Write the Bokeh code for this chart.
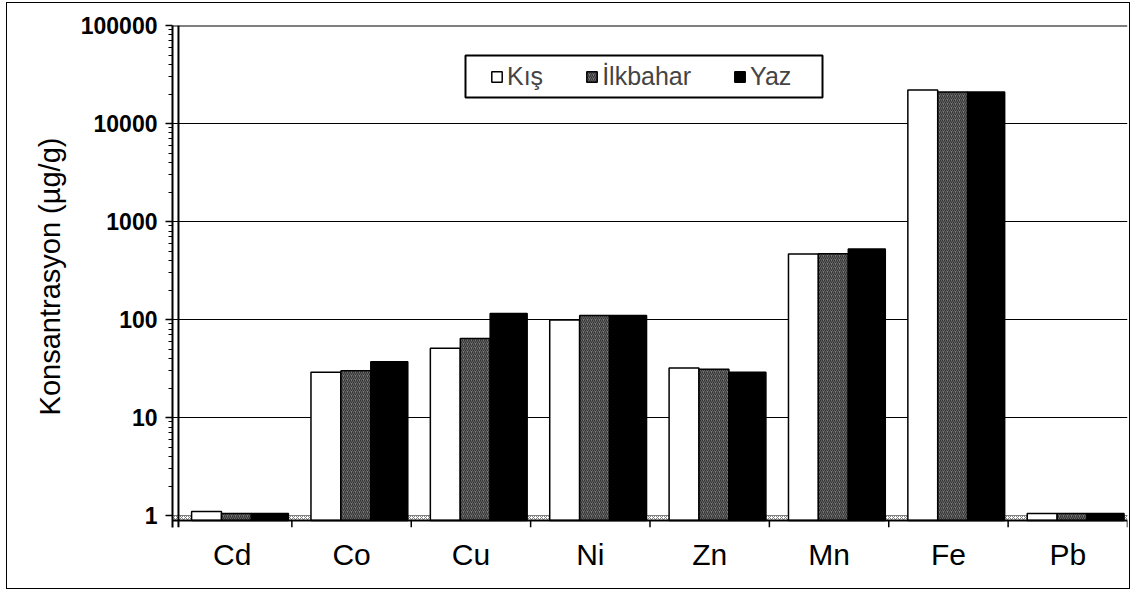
from bokeh.plotting import figure
from bokeh.models import (ColumnDataSource, FactorRange, Range1d, FixedTicker,
                          NumeralTickFormatter, Span, BoxAnnotation, Legend, LegendItem)
from bokeh.transform import dodge
from bokeh.embed import file_html
from bokeh.resources import INLINE

# Metal concentrations (µg/g) by season
elements = ["Cd", "Co", "Cu", "Ni", "Zn", "Mn", "Fe", "Pb"]
kis = [1.1, 29, 51, 99, 32, 465, 22000, 1.05]
ilkbahar = [1.05, 30, 64, 110, 31, 470, 21000, 1.05]
yaz = [1.05, 37, 115, 110, 29, 525, 21000, 1.05]

series_labels = ["Kış", "İlkbahar", "Yaz"]
major_ticks = [1, 10, 100, 1000, 10000, 100000]

FONT = "Liberation Sans"
FLOOR = 0.889      # front edge of the chart floor
Y_MIN = 0.7545     # a few pixels below the floor for the category ticks

src = ColumnDataSource(dict(el=elements, kis=kis, ilkbahar=ilkbahar, yaz=yaz))

p = figure(width=1122, height=585, output_backend="svg", toolbar_location=None,
           x_range=FactorRange(*elements, range_padding=0),
           y_range=Range1d(Y_MIN, 100000), y_axis_type="log",
           min_border_left=165, min_border_right=2, min_border_top=22,
           min_border_bottom=61)
# chart sits inside a thin black frame
p.styles = {"margin-left": "7px", "margin-top": "3px",
            "outline": "1.5px solid black"}
p.outline_line_color = None
p.background_fill_color = "white"
p.border_fill_color = "white"

# hatched floor strip
p.add_layout(BoxAnnotation(bottom=FLOOR, top=1, fill_color="white", fill_alpha=1,
                           hatch_pattern="diagonal_cross", hatch_color="#808080",
                           hatch_scale=4, hatch_weight=1, line_color=None,
                           level="underlay"))

common = dict(source=src, bottom=FLOOR, line_color="black", line_width=1.5)
r_kis = p.vbar(x=dodge("el", -0.215, range=p.x_range), top="kis", width=0.25,
               fill_color="white", **common)
r_ilk = p.vbar(x=dodge("el", 0.036, range=p.x_range), top="ilkbahar", width=0.25,
               fill_color="#7c7c7c", hatch_pattern="right_diagonal_line",
               hatch_color="#333333", hatch_scale=4, hatch_weight=1.2, **common)
r_yaz = p.vbar(x=dodge("el", 0.316, range=p.x_range), top="yaz", width=0.31,
               fill_color="black", **common)

# category boundary ticks below the floor
bx = dodge("el", 0.5, range=p.x_range)
p.segment(x0=bx, x1=bx, y0=FLOOR, y1=Y_MIN, source=src, line_color="black", line_width=1.5)

# floor front edge, top edge and back wall line
p.add_layout(Span(location=FLOOR, dimension="width", line_color="black", line_width=2))
p.add_layout(Span(location=100000, dimension="width", line_color="black", line_width=2))
p.add_layout(Span(location=0.05, dimension="height", line_color="black", line_width=2))

# axes
p.xgrid.visible = False
p.ygrid.grid_line_color = "black"
p.ygrid.grid_line_width = 1

p.xaxis.axis_line_color = None
p.xaxis.major_tick_line_color = None
p.xaxis.minor_tick_line_color = None
p.xaxis.major_label_text_font = FONT
p.xaxis.major_label_text_font_size = "30px"
p.xaxis.major_label_text_color = "black"
p.xaxis.major_label_standoff = 4

minor = [k * 10 ** d for d in range(5) for k in range(2, 10)]
p.yaxis.ticker = FixedTicker(ticks=major_ticks, minor_ticks=minor)
p.yaxis.formatter = NumeralTickFormatter(format="0")
p.yaxis.axis_line_width = 2
p.yaxis.axis_line_color = "black"
p.yaxis.major_tick_in = 0
p.yaxis.major_tick_out = 7
p.yaxis.minor_tick_in = 0
p.yaxis.minor_tick_out = 4
p.yaxis.major_tick_line_width = 1.5
p.yaxis.major_label_text_font = FONT
p.yaxis.major_label_text_font_size = "23px"
p.yaxis.major_label_text_font_style = "bold"
p.yaxis.major_label_text_color = "black"
p.yaxis.major_label_standoff = 8
p.yaxis.axis_label = "Konsantrasyon (µg/g)"
p.yaxis.axis_label_text_font = FONT
p.yaxis.axis_label_text_font_size = "29px"
p.yaxis.axis_label_text_font_style = "normal"
p.yaxis.axis_label_text_color = "black"
p.yaxis.axis_label_standoff = 12

# legend box and items
p.add_layout(BoxAnnotation(left=458, right=815, top=52, bottom=94,
                           left_units="canvas", right_units="canvas",
                           top_units="canvas", bottom_units="canvas",
                           fill_color="white", fill_alpha=1,
                           line_color="black", line_width=2, line_alpha=1,
                           level="overlay"))
legend = Legend(items=[LegendItem(label=series_labels[0], renderers=[r_kis]),
                       LegendItem(label=series_labels[1], renderers=[r_ilk]),
                       LegendItem(label=series_labels[2], renderers=[r_yaz])],
                orientation="horizontal", location=(318, 436),
                padding=0, margin=0, spacing=42, label_standoff=4,
                glyph_width=13, glyph_height=13,
                label_text_font=FONT, label_text_font_size="25px",
                border_line_color=None, background_fill_alpha=0)
p.add_layout(legend, "center")

open("out.html", "w").write(file_html(p, INLINE))
